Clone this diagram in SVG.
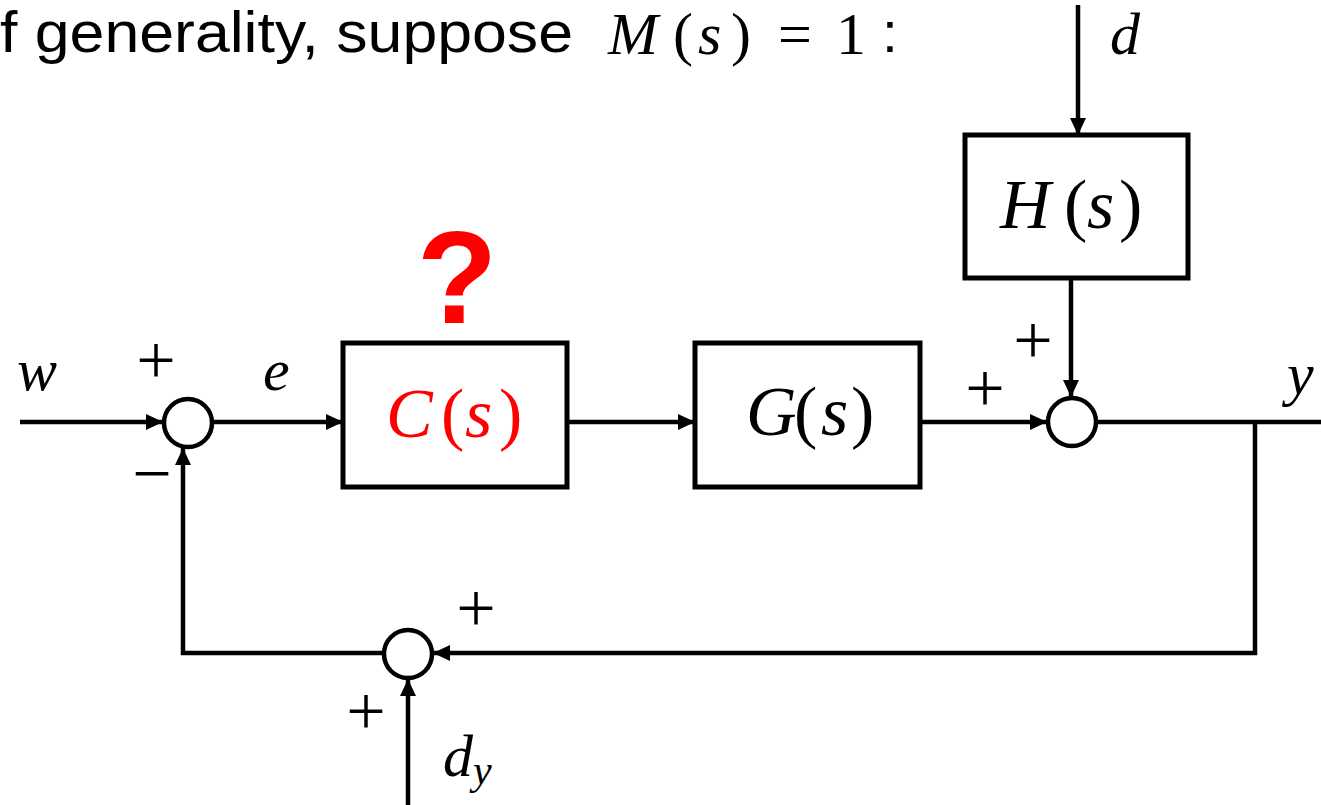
<svg xmlns="http://www.w3.org/2000/svg" width="1321" height="805" viewBox="0 0 1321 805">
<style>
.box{fill:#fff;stroke:#000;stroke-width:5}
.sum{fill:#fff;stroke:#000;stroke-width:4.5}
.ln{fill:none;stroke:#000;stroke-width:4.5}
.m{font-family:"Liberation Serif","DejaVu Serif",serif;font-style:italic;font-size:60px;fill:#000}
.bm{font-size:70px}
.mr{font-style:normal}
.sg{font-family:"Liberation Serif","DejaVu Serif",serif;font-size:70px;fill:#000}
.t{font-family:"Liberation Sans",Arial,sans-serif;font-size:57px;fill:#000}
</style>
<defs>
<marker id="ah" markerUnits="userSpaceOnUse" markerWidth="18" markerHeight="16" refX="17" refY="8" orient="auto">
<path d="M0,0 L17,8 L0,16 Z" fill="#000"/>
</marker>
</defs>
<g id="title">
<text class="t" x="0" y="52" textLength="573" lengthAdjust="spacingAndGlyphs">f generality, suppose</text>
<text class="m" y="54"><tspan x="608">M</tspan><tspan class="mr" x="673">(</tspan><tspan x="698">s</tspan><tspan class="mr" x="731">)</tspan><tspan class="mr" x="778">=</tspan><tspan class="mr" x="836">1</tspan></text>
<text class="t" x="882" y="52">:</text>
</g>
<g id="connectors">
<line class="ln" x1="20" y1="422" x2="163" y2="422" marker-end="url(#ah)"/>
<line class="ln" x1="213" y1="422" x2="343" y2="422" marker-end="url(#ah)"/>
<line class="ln" x1="567" y1="422" x2="695" y2="422" marker-end="url(#ah)"/>
<line class="ln" x1="920" y1="422" x2="1047" y2="422" marker-end="url(#ah)"/>
<line class="ln" x1="1078" y1="5" x2="1078" y2="135" marker-end="url(#ah)"/>
<line class="ln" x1="1071" y1="278" x2="1071" y2="397" marker-end="url(#ah)"/>
<line class="ln" x1="1097" y1="422" x2="1321" y2="422"/>
<polyline class="ln" points="1255,422 1255,653 433,653" marker-end="url(#ah)"/>
<polyline class="ln" points="383,653 183,653 183,448" marker-end="url(#ah)"/>
<line class="ln" x1="408" y1="805" x2="408" y2="679" marker-end="url(#ah)"/>
</g>
<g id="sum1"><circle class="sum" cx="188" cy="423" r="24"/></g>
<g id="sum2"><circle class="sum" cx="1072" cy="422" r="24"/></g>
<g id="sum3"><circle class="sum" cx="408" cy="654" r="24"/></g>
<g id="C">
<rect class="box" x="343" y="343" width="224" height="144"/>
<text class="m bm" y="437" style="fill:#f00"><tspan x="386">C</tspan><tspan class="mr" x="441">(</tspan><tspan x="465">s</tspan><tspan class="mr" x="499">)</tspan></text>
</g>
<g id="G">
<rect class="box" x="695" y="343" width="225" height="144"/>
<text class="m bm" y="435"><tspan x="746">G</tspan><tspan class="mr" x="794">(</tspan><tspan x="821">s</tspan><tspan class="mr" x="851">)</tspan></text>
</g>
<g id="H">
<rect class="box" x="965" y="135" width="223" height="143"/>
<text class="m bm" y="228"><tspan x="1000">H</tspan><tspan class="mr" x="1064">(</tspan><tspan x="1087">s</tspan><tspan class="mr" x="1119">)</tspan></text>
</g>
<g id="labels">
<text x="457" y="323" text-anchor="middle" font-family="Liberation Sans, Arial, sans-serif" font-weight="bold" font-size="132" fill="#f00">?</text>
<text class="m" x="17" y="390">w</text>
<text class="m" x="263" y="390">e</text>
<text class="m" x="1287" y="394">y</text>
<text class="m" x="1110" y="54">d</text>
<text class="m" x="443" y="776">d<tspan font-size="42" dy="8">y</tspan></text>
<text class="sg" x="156" y="384" text-anchor="middle">+</text>
<text class="sg" x="152" y="497" text-anchor="middle">−</text>
<text class="sg" x="985" y="412" text-anchor="middle">+</text>
<text class="sg" x="1033" y="364" text-anchor="middle">+</text>
<text class="sg" x="476" y="632" text-anchor="middle">+</text>
<text class="sg" x="366" y="735" text-anchor="middle">+</text>
</g>
</svg>
